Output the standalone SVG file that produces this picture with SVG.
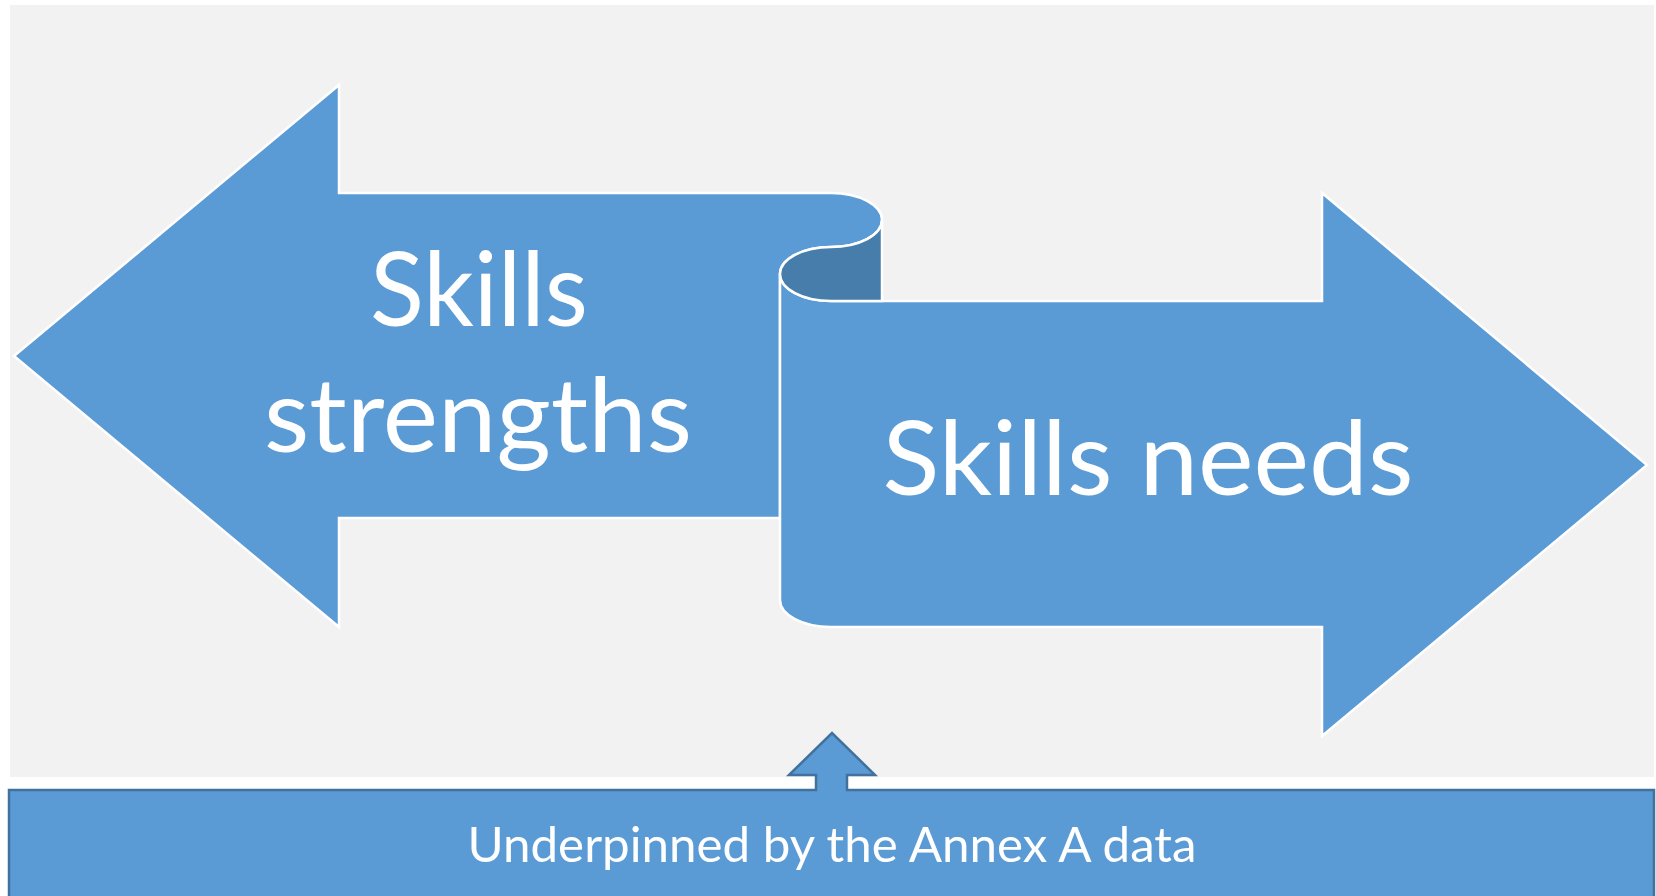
<svg xmlns="http://www.w3.org/2000/svg" width="1656" height="896" viewBox="0 0 1656 896">
<style>
.rib{fill:#5b9bd5;stroke:#ffffff;stroke-width:2.5;stroke-linejoin:miter}
.dark{fill:#477dab;stroke:#ffffff;stroke-width:2.5}
.callout{fill:#5b9bd5;stroke:#41719c;stroke-width:2.5}
.big{font-family:Lato,"Open Sans","Liberation Sans",sans-serif;font-size:103px;fill:#ffffff;text-anchor:middle}
.small{font-family:Lato,"Open Sans","Liberation Sans",sans-serif;font-size:48px;fill:#ffffff;text-anchor:middle}
</style>
<rect x="0" y="0" width="1656" height="896" fill="#ffffff"/>
<rect id="background" x="10" y="5" width="1644" height="772" fill="#f2f2f2"/>
<g id="left-arrow">
<path class="rib" d="M14 356 L339 85 L339 193 L831 193 A51 27 0 0 1 882 220 A51 27 0 0 1 831 247 A51 27 0 0 0 780 274 L780 518 L339 518 L339 627 Z"/>
<text class="big" x="479" y="326" textLength="218" lengthAdjust="spacingAndGlyphs">Skills</text>
<text class="big" x="478" y="452" textLength="428" lengthAdjust="spacingAndGlyphs">strengths</text>
</g>
<g id="right-arrow">
<path class="rib" d="M780 274 A51 27 0 0 0 831 301 L1322 301 L1322 193 L1647 465 L1322 736 L1322 627 L831 627 A51 27 0 0 1 780 600 Z"/>
<path class="dark" d="M882 220 A51 27 0 0 1 831 247 A51 27 0 0 0 780 274 A51 27 0 0 0 831 301 L882 301 Z"/>
<text class="big" x="1148" y="495" textLength="531" lengthAdjust="spacingAndGlyphs">Skills needs</text>
</g>
<g id="annex-callout">
<path class="callout" d="M9 790 L816 790 L816 775 L789 775 L832 733 L875 775 L847 775 L847 790 L1654 790 L1654 900 L9 900 Z"/>
<text class="small" x="832" y="862" textLength="729" lengthAdjust="spacingAndGlyphs">Underpinned by the Annex A data</text>
</g>
<g id="connectors"></g>
</svg>
